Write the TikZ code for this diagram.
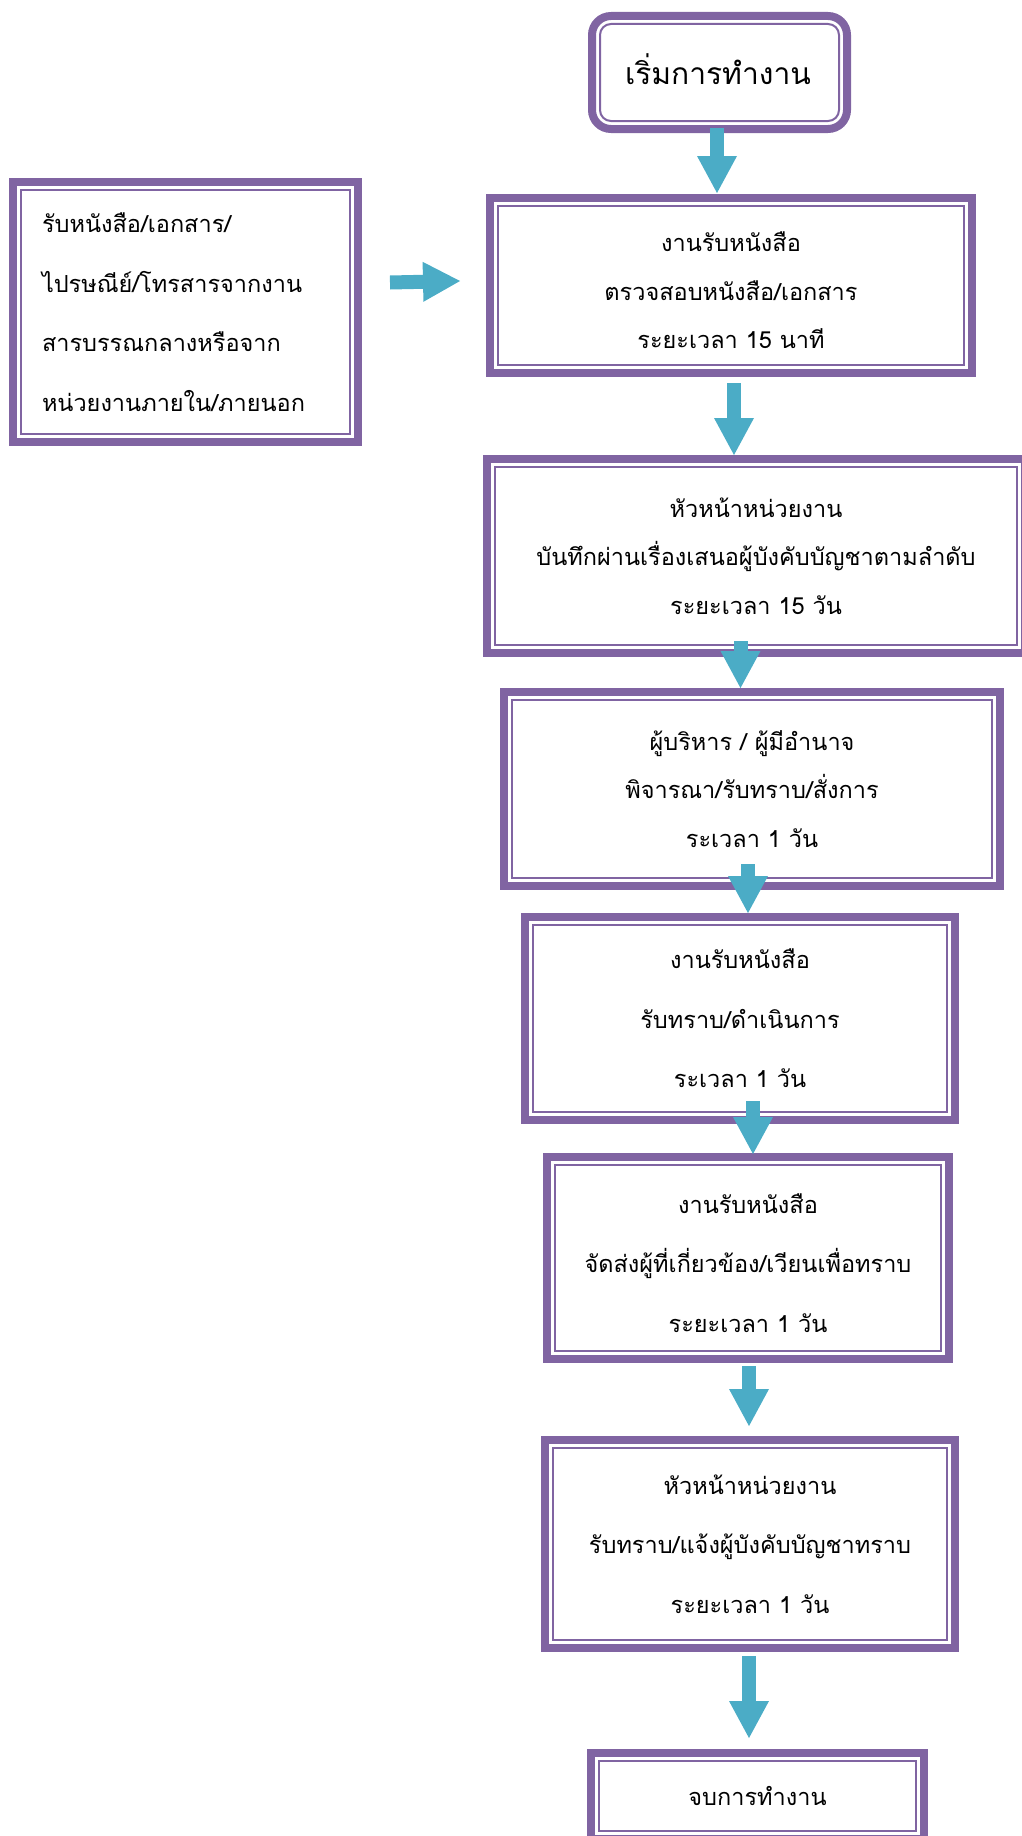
\documentclass[tikz,border=0pt]{standalone}
\usepackage{fontspec}
\newfontfamily\thai[Script=Thai]{Loma}
\usetikzlibrary{arrows.meta}
\definecolor{purp}{HTML}{8064A2}
\definecolor{aqua}{HTML}{4BACC6}
\newcommand\lowline[2]{\raisebox{-#1}[\height][\depth]{#2}}
\tikzset{
  dbox/.style={draw=purp, line width=8pt, fill=white, inner sep=0pt, outer sep=0pt,
    align=center, font=\thai\fontsize{23.5}{48.5}\selectfont,
    path picture={\draw[purp, line width=2pt, sharp corners]
      ([xshift=8pt,yshift=-8pt]path picture bounding box.north west) rectangle
      ([xshift=-8pt,yshift=8pt]path picture bounding box.south east);}},
  wide/.style={font=\thai\fontsize{23.5}{59.5}\selectfont},
  rbox/.style={draw=purp, line width=8pt, fill=white, inner sep=0pt, outer sep=0pt,
    rounded corners=19pt,
    path picture={\draw[purp, line width=2pt, rounded corners=11pt]
      ([xshift=8pt,yshift=-8pt]path picture bounding box.north west) rectangle
      ([xshift=-8pt,yshift=8pt]path picture bounding box.south east);}},
  flow/.style={draw=aqua, line width=14pt,
    -{Triangle[width=40pt,length=37pt,line width=0pt]}},
}
\begin{document}
\begin{tikzpicture}[x=1pt,y=-1pt]
\useasboundingbox (0,0) rectangle (1021,1836);
\node[rbox, minimum width=255pt, minimum height=113pt, align=left,
  inner xsep=33pt, text width=189pt, font=\thai\fontsize{30}{34}\selectfont]
  (st) at (719.5,72.5) {\raisebox{6pt}{เริ่มการทำงาน}};
\node[dbox, wide, minimum width=345pt, minimum height=260pt, align=left,
  inner xsep=29pt, text width=287pt]
  (src) at (185.5,312) {รับหนังสือ/เอกสาร/\\ไปรษณีย์/โทรสารจากงาน\\สารบรรณกลางหรือจาก\\หน่วยงานภายใน/ภายนอก};
\node[dbox, minimum width=482pt, minimum height=175pt] (b2) at (731,285.5)
  {\lowline{5pt}{งานรับหนังสือ}\\\lowline{5pt}{ตรวจสอบหนังสือ/เอกสาร}\\\lowline{5pt}{ระยะเวลา 15 นาที}};
\node[dbox, minimum width=538pt, minimum height=194pt] (b3) at (756,556)
  {หัวหน้าหน่วยงาน\\บันทึกผ่านเรื่องเสนอผู้บังคับบัญชาตามลำดับ\\ระยะเวลา 15 วัน};
\node[dbox, minimum width=496pt, minimum height=194pt] (b4) at (752,789)
  {ผู้บริหาร / ผู้มีอำนาจ\\พิจารณา/รับทราบ/สั่งการ\\ระเวลา 1 วัน};
\node[dbox, wide, minimum width=430pt, minimum height=203pt] (b5) at (740,1018.5)
  {งานรับหนังสือ\\รับทราบ/ดำเนินการ\\ระเวลา 1 วัน};
\node[dbox, wide, minimum width=402pt, minimum height=202pt] (b6) at (748,1258)
  {\lowline{5pt}{งานรับหนังสือ}\\\lowline{5pt}{จัดส่งผู้ที่เกี่ยวข้อง/เวียนเพื่อทราบ}\\\lowline{5pt}{ระยะเวลา 1 วัน}};
\node[dbox, wide, minimum width=410pt, minimum height=208pt] (b7) at (750,1544)
  {หัวหน้าหน่วยงาน\\รับทราบ/แจ้งผู้บังคับบัญชาทราบ\\ระยะเวลา 1 วัน};
\node[dbox, minimum width=333pt, minimum height=86pt] (en) at (757.5,1796)
  {จบการทำงาน};
\draw[flow] ([xshift=-2.5pt,yshift=1pt]st.south) -- ([xshift=-14pt,yshift=5pt]b2.north);
\draw[flow] ([xshift=32pt,yshift=29.5pt]src.east) -- ([xshift=-30pt,yshift=4.5pt]b2.west);
\draw[flow] ([xshift=3pt,yshift=-10pt]b2.south) -- ([xshift=-22pt,yshift=4pt]b3.north);
\draw[flow] ([xshift=-15.5pt,yshift=12pt]b3.south) -- ([xshift=-11.5pt,yshift=4pt]b4.north);
\draw[flow] ([xshift=-4pt,yshift=22pt]b4.south) -- ([xshift=8pt,yshift=4pt]b5.north);
\draw[flow] ([xshift=13pt,yshift=19pt]b5.south) -- ([xshift=5pt,yshift=3pt]b6.north);
\draw[flow] ([xshift=1pt,yshift=-7pt]b6.south) -- ([xshift=-1pt,yshift=14pt]b7.north);
\draw[flow] ([xshift=-1pt,yshift=-8pt]b7.south) -- ([xshift=-8.5pt,yshift=15pt]en.north);
\end{tikzpicture}
\end{document}
